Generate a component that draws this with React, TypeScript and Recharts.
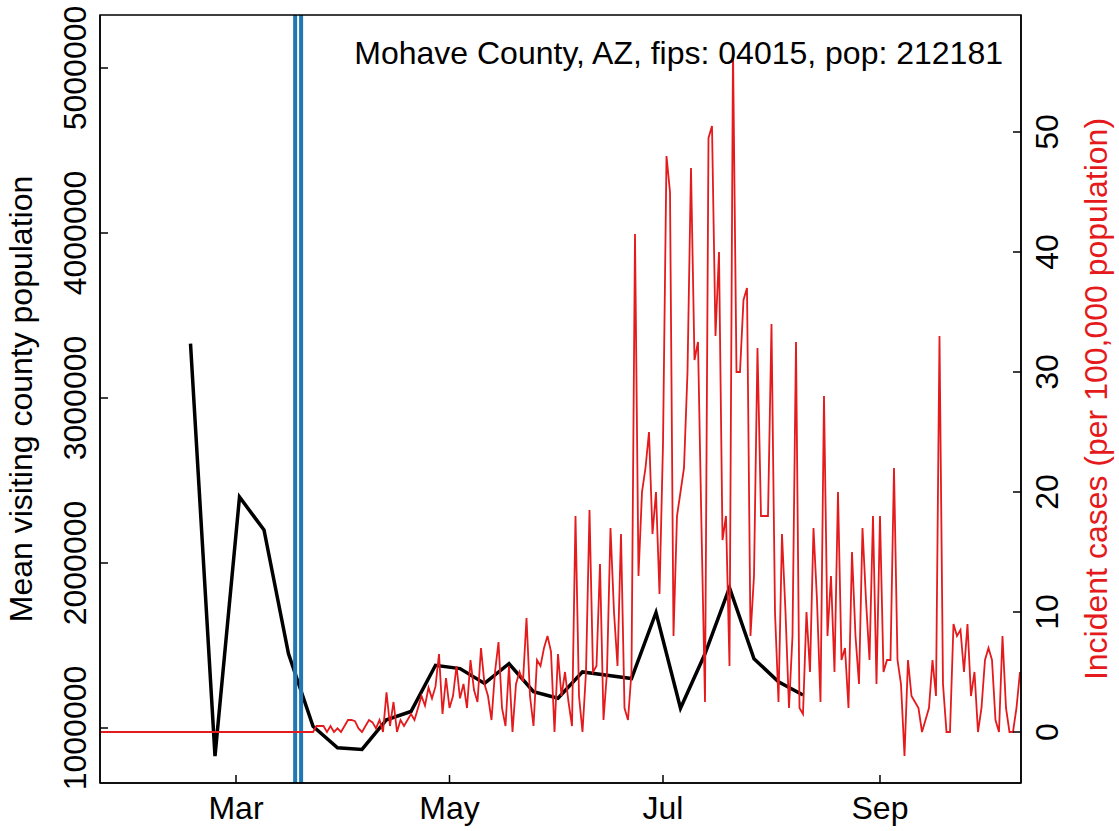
import React from 'react';
import { LineChart, Line, XAxis, YAxis, ReferenceLine } from 'recharts';

const FONT = '"Liberation Sans", Arial, Helvetica, sans-serif';
const RED = '#E41A1C';
const BLUE = '#1F78B4';

// x axis: day of year 2020 (Jan 1 = 0)
const monthTicks = [60, 121, 182, 244];
const monthLabels = ['Mar', 'May', 'Jul', 'Sep'];
const leftTicks = [1000000, 2000000, 3000000, 4000000, 5000000];
const rightTicks = [0, 10, 20, 30, 40, 50];

// weekly mean visiting county population (black line)
const visitDays = [47, 54, 61, 68, 75, 82, 89, 96, 103, 110, 117, 124, 131, 138, 145, 152, 159, 166, 173, 180, 187, 194, 201, 208, 215, 222];
const visitValues = [3330000, 830000, 2400000, 2200000, 1450000, 1010000, 880000, 870000, 1050000, 1100000, 1380000, 1360000, 1270000, 1390000, 1220000, 1180000, 1340000, 1320000, 1300000, 1700000, 1120000, 1450000, 1850000, 1420000, 1280000, 1200000];

// daily incident cases per 100,000 (red line), starting at day 21
const incidentStartDay = 21;
const incidentValues = [
  0, 0, 0, 0, 0, 0, 0, 0, 0, 0,
  0, 0, 0, 0, 0, 0, 0, 0, 0, 0,
  0, 0, 0, 0, 0, 0, 0, 0, 0, 0,
  0, 0, 0, 0, 0, 0, 0, 0, 0, 0,
  0, 0, 0, 0, 0, 0, 0, 0, 0, 0,
  0, 0, 0, 0, 0, 0, 0, 0, 0, 0,
  0, 0,
  0.5, 0.5, 0.5, 0, 0.5, 0, 0.3, 0, 0.5, 1,
  1, 0.9, 0.3, 0, 0.5, 1, 0.8, 0.3, 1,
  0, 3.3, 0.5, 2.5, 0, 1, 0.5, 1, 1.5, 1,
  2, 3, 2.2, 3.7, 2.8, 3.8, 6.5, 1.5, 4.5, 2,
  3, 5.5, 2.8, 4, 2, 6, 3.5, 2.5, 7, 4,
  3, 1, 5, 7.5, 2, 0.5, 5.5, 0, 4, 5,
  4.2, 9.5, 3, 0.5, 6, 5.5, 7, 8, 6.7, 0,
  6.5, 3, 5, 2.5, 0.5, 18, 3, 0, 5, 18.5,
  5, 5.5, 14, 1, 5, 17, 10, 5.5, 16.5, 2,
  1, 5, 41.5, 13, 20, 22, 25, 16.5, 20, 11.5,
  24, 48, 45, 8, 18, 20, 22, 30, 47, 31,
  32.5, 17, 2.5, 49.5, 50.5, 33, 40, 16, 18, 5.5,
  57, 30, 30, 36, 37, 8, 13, 32, 18, 18,
  18, 34, 10, 2.5, 16.5, 10, 2, 8, 32.5, 2,
  1.5, 10, 5, 17, 11, 2.5, 28, 8, 13, 5,
  20, 6, 7, 2,
  15, 8, 4, 17, 11, 6, 18, 4, 18, 5,
  6, 6, 22, 6, 4, -2, 6, 3, 2.5, 2,
  0, 1, 2, 6, 3, 33, 4, 0, 0, 9,
  8, 8.5, 5, 9, 3, 5, 0, 2, 6, 7,
  6, 1, 0, 8, 2, 0, 0, 2, 5,
];

// vertical policy markers (blue)
const policyDays = [76.9, 78.6];

const titleText = 'Mohave County, AZ, fips: 04015, pop: 212181';
const leftTitle = 'Mean visiting county population';
const rightTitle = 'Incident cases (per 100,000 population)';

const visitData = visitDays.map((d, i) => ({ day: d, visits: visitValues[i] }));
const incidentData = incidentValues.map((v, i) => ({ day: incidentStartDay + i, cases: v }));

const W = 1119;
const H = 831;
const PL = 100;
const PR = 1021;
const PT = 15;
const PB = 783;
const FS = 32;

const XTick = (props: any) => {
  const { x, y, payload } = props;
  const idx = monthTicks.indexOf(payload.value);
  return (
    <g>
      <line x1={x} x2={x} y1={y} y2={y - 8} stroke="#000" strokeWidth={1.5} />
      <text x={x} y={y + 36} textAnchor="middle" fontSize={FS} fontFamily={FONT} fill="#000">
        {monthLabels[idx]}
      </text>
    </g>
  );
};

const LeftTick = (props: any) => {
  const { x, y, payload } = props;
  const tx = x - 14;
  return (
    <g>
      <line x1={x} x2={x + 8} y1={y} y2={y} stroke="#000" strokeWidth={1.5} />
      <text x={tx} y={y} transform={`rotate(-90, ${tx}, ${y})`} textAnchor="middle" fontSize={FS} fontFamily={FONT} fill="#000">
        {String(payload.value)}
      </text>
    </g>
  );
};

const RightTick = (props: any) => {
  const { x, y, payload } = props;
  const tx = x + 37;
  return (
    <g>
      <line x1={x} x2={x - 8} y1={y} y2={y} stroke="#000" strokeWidth={1.5} />
      <text x={tx} y={y} transform={`rotate(-90, ${tx}, ${y})`} textAnchor="middle" fontSize={FS} fontFamily={FONT} fill="#000">
        {String(payload.value)}
      </text>
    </g>
  );
};

export default function App() {
  return (
    <div style={{ position: 'absolute', left: 0, top: 0, width: W, height: H, background: '#fff' }}>
      <LineChart width={W} height={H} margin={{ top: PT, right: 0, bottom: 0, left: 0 }}>
        <XAxis
          xAxisId="x"
          dataKey="day"
          type="number"
          domain={[21.14, 284.29]}
          allowDataOverflow
          ticks={monthTicks}
          tick={<XTick />}
          tickLine={false}
          tickSize={0}
          tickMargin={0}
          height={H - PB}
          axisLine={{ stroke: '#000', strokeWidth: 1.5 }}
          interval={0}
        />
        <YAxis
          yAxisId="left"
          orientation="left"
          type="number"
          domain={[666667, 5321212]}
          allowDataOverflow
          ticks={leftTicks}
          tick={<LeftTick />}
          tickLine={false}
          tickSize={0}
          tickMargin={0}
          width={PL}
          axisLine={{ stroke: '#000', strokeWidth: 1.5 }}
          interval={0}
        />
        <YAxis
          yAxisId="right"
          orientation="right"
          type="number"
          domain={[-4.25, 59.75]}
          allowDataOverflow
          ticks={rightTicks}
          tick={<RightTick />}
          tickLine={false}
          tickSize={0}
          tickMargin={0}
          width={W - PR}
          axisLine={{ stroke: '#000', strokeWidth: 1.5 }}
          interval={0}
        />
        <Line
          xAxisId="x"
          yAxisId="left"
          data={visitData}
          dataKey="visits"
          type="linear"
          stroke="#000"
          strokeWidth={3.5}
          dot={false}
          activeDot={false}
          isAnimationActive={false}
        />
        {policyDays.map((d) => (
          <ReferenceLine key={d} xAxisId="x" yAxisId="left" x={d} stroke={BLUE} strokeWidth={4} />
        ))}
        <Line
          xAxisId="x"
          yAxisId="right"
          data={incidentData}
          dataKey="cases"
          type="linear"
          stroke={RED}
          strokeWidth={1.8}
          dot={false}
          activeDot={false}
          isAnimationActive={false}
        />
      </LineChart>
      <svg width={W} height={H} style={{ position: 'absolute', left: 0, top: 0, pointerEvents: 'none' }}>
        <rect x={PL} y={PT} width={PR - PL} height={PB - PT} fill="none" stroke="#000" strokeWidth={1.5} />
        <text x={1003} y={64} textAnchor="end" fontSize={FS} fontFamily={FONT} fill="#000">
          {titleText}
        </text>
        <text x={32} y={399} transform="rotate(-90, 32, 399)" textAnchor="middle" fontSize={FS} fontFamily={FONT} fill="#000">
          {leftTitle}
        </text>
        <text x={1107} y={399} transform="rotate(-90, 1107, 399)" textAnchor="middle" fontSize={FS} fontFamily={FONT} fill={RED}>
          {rightTitle}
        </text>
      </svg>
    </div>
  );
}
